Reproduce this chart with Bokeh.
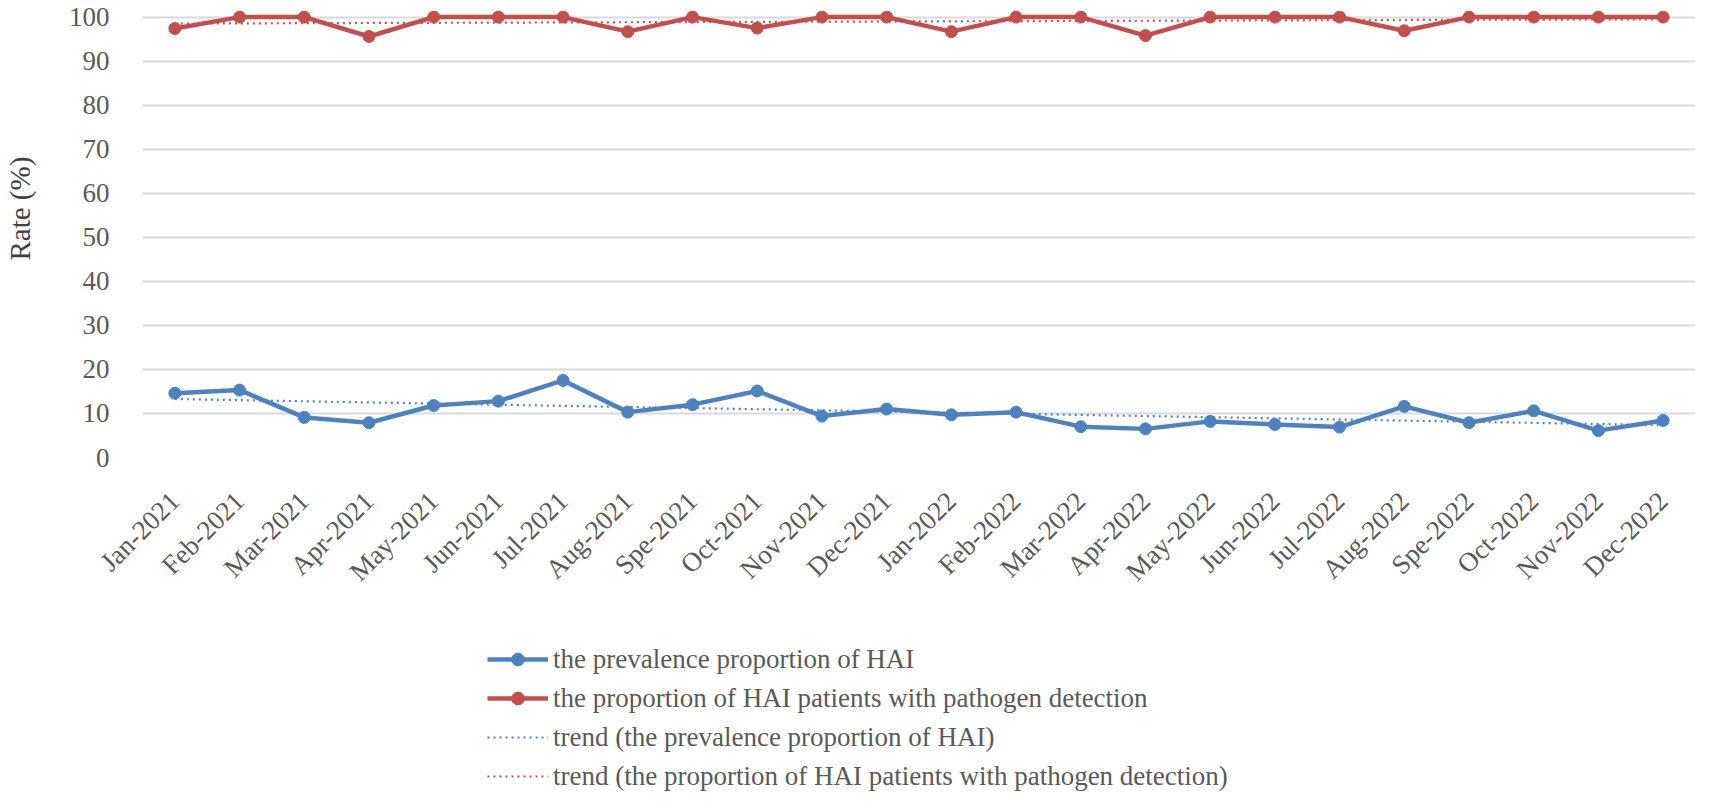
import numpy as np
from bokeh.plotting import figure
from bokeh.layouts import column
from bokeh.models import FactorRange, Range1d, FixedTicker, Legend, LegendItem, ColumnDataSource
from bokeh.embed import file_html
from bokeh.resources import INLINE

months = ["Jan-2021", "Feb-2021", "Mar-2021", "Apr-2021", "May-2021", "Jun-2021",
          "Jul-2021", "Aug-2021", "Spe-2021", "Oct-2021", "Nov-2021", "Dec-2021",
          "Jan-2022", "Feb-2022", "Mar-2022", "Apr-2022", "May-2022", "Jun-2022",
          "Jul-2022", "Aug-2022", "Spe-2022", "Oct-2022", "Nov-2022", "Dec-2022"]

prevalence = [14.6, 15.3, 9.1, 7.9, 11.8, 12.8, 17.5, 10.3, 12.0, 15.1, 9.4, 11.0,
              9.7, 10.3, 7.0, 6.5, 8.2, 7.5, 6.9, 11.6, 7.9, 10.6, 6.1, 8.4]

pathogen = [97.4, 100, 100, 95.6, 100, 100, 100, 96.7, 100, 97.5, 100, 100,
            96.7, 100, 100, 95.8, 100, 100, 100, 96.9, 100, 100, 100, 100]

y_ticks = [0, 10, 20, 30, 40, 50, 60, 70, 80, 90, 100]

labels = ["the prevalence proportion of HAI",
          "the proportion of HAI patients with pathogen detection",
          "trend (the prevalence proportion of HAI)",
          "trend (the proportion of HAI patients with pathogen detection)"]

BLUE = "#4F81BD"
RED = "#C0504D"
FONT = "Liberation Serif"
TXT = "#595959"

idx = np.arange(len(months))
tb = np.polyval(np.polyfit(idx, prevalence, 1), idx)
tr = np.polyval(np.polyfit(idx, pathogen, 1), idx)

src = ColumnDataSource(dict(m=months, a=prevalence, b=pathogen, ta=list(tb), tb=list(tr)))

xr = FactorRange(factors=months, range_padding=0)

p = figure(x_range=xr, y_range=Range1d(0, 101.5),
           width=1697, height=600, output_backend="svg", toolbar_location=None,
           min_border_left=131, min_border_right=2, min_border_top=10, min_border_bottom=134)
p.outline_line_color = None

def draw(fig):
    l1 = fig.line("m", "a", source=src, line_color=BLUE, line_width=4.5)
    s1 = fig.scatter("m", "a", source=src, size=12, color=BLUE)
    l2 = fig.line("m", "b", source=src, line_color=RED, line_width=4.5)
    s2 = fig.scatter("m", "b", source=src, size=12, color=RED)
    t1 = fig.line("m", "ta", source=src, line_color=BLUE, line_width=2.2, line_dash="2 4")
    t2 = fig.line("m", "tb", source=src, line_color=RED, line_width=2.2, line_dash="2 4")
    return l1, s1, l2, s2, t1, t2

draw(p)

p.yaxis.ticker = FixedTicker(ticks=y_ticks)
p.xgrid.grid_line_color = None
p.ygrid.grid_line_color = "#D9D9D9"
p.ygrid.grid_line_width = 2

for ax in (p.xaxis[0], p.yaxis[0]):
    ax.axis_line_color = None
    ax.major_tick_line_color = None
    ax.minor_tick_line_color = None
    ax.major_label_text_font = FONT
    ax.major_label_text_color = TXT

p.xaxis.major_label_text_font_size = "27px"
p.yaxis.major_label_text_font_size = "27px"
p.xaxis.major_label_orientation = np.pi / 4
p.xaxis.major_label_standoff = 33
p.yaxis.major_label_standoff = 27
p.yaxis.axis_label = "\u00a0" * 7 + "Rate (%)"
p.yaxis.axis_label_text_font = FONT
p.yaxis.axis_label_text_font_size = "29px"
p.yaxis.axis_label_text_font_style = "normal"
p.yaxis.axis_label_text_color = "#404040"
p.yaxis.axis_label_standoff = 30

# legend panel below the chart
q = figure(x_range=xr, y_range=Range1d(-1000, -999), width=1697, height=196,
           output_backend="svg", toolbar_location=None,
           x_axis_location=None, y_axis_location=None, min_border=0)
q.outline_line_color = None
q.grid.visible = False
l1, s1, l2, s2, t1, t2 = draw(q)

legend = Legend(items=[LegendItem(label=labels[0], renderers=[l1, s1]),
                       LegendItem(label=labels[1], renderers=[l2, s2]),
                       LegendItem(label=labels[2], renderers=[t1]),
                       LegendItem(label=labels[3], renderers=[t2])],
                location=(345, 3.7), orientation="vertical")
legend.label_text_font = FONT
legend.label_text_font_size = "27px"
legend.label_text_color = TXT
legend.glyph_width = 61
legend.glyph_height = 32
legend.label_height = 32
legend.label_standoff = 5
legend.spacing = 7
legend.padding = 0
legend.margin = 0
legend.border_line_color = None
legend.background_fill_alpha = 0
q.add_layout(legend)

layout = column(p, q, spacing=0)
open("out.html", "w").write(file_html(layout, INLINE))
